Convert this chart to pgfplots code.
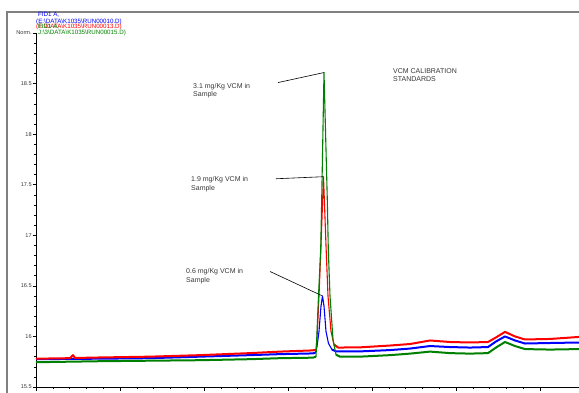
\documentclass[border=0pt]{standalone}
\usepackage{pgfplots}
\pgfplotsset{compat=1.18}
\usepackage{pgfplotstable}
\usepackage{fontspec}
\setmainfont{Liberation Sans}
\definecolor{cblue}{RGB}{0,0,255}
\definecolor{cred}{RGB}{255,0,0}
\definecolor{cgreen}{RGB}{0,128,0}
\definecolor{txt}{RGB}{55,55,55}

\pgfplotstableread{
x y
36 15.775
100 15.780
150 15.785
200 15.800
250 15.815
280 15.825
313 15.832
315.5 15.840
317 15.900
319 16.050
321 16.300
322.5 16.400
324 16.300
326 16.050
328.5 15.930
332 15.870
336 15.852
360 15.852
390 15.865
410 15.880
430 15.905
450 15.895
470 15.890
488 15.895
496 15.950
505 16.000
515 15.960
525 15.930
550 15.935
579 15.940
}\blueT

\pgfplotstableread{
x y
36 15.780
50 15.782
70 15.785
73 15.815
75 15.787
100 15.792
150 15.800
200 15.815
250 15.835
280 15.850
313 15.862
316 15.870
317 15.980
319 16.400
321 16.900
323.5 17.580
326 16.900
328 16.400
331 16.050
334 15.920
338 15.890
360 15.892
390 15.910
410 15.925
430 15.960
450 15.945
470 15.940
488 15.945
496 15.990
505 16.045
515 16.000
525 15.970
550 15.975
579 15.995
}\redT

\pgfplotstableread{
x y
36 15.745
100 15.755
150 15.760
200 15.765
250 15.775
280 15.785
313 15.790
316 15.800
316.7 15.970
318.5 16.400
320.7 16.860
321.7 17.350
324 18.610
327.3 17.350
328.3 16.860
330 16.400
333 15.970
336 15.820
340 15.800
360 15.800
390 15.815
410 15.830
430 15.850
450 15.835
470 15.830
488 15.835
496 15.890
505 15.945
515 15.905
525 15.875
550 15.870
579 15.875
}\greenT

\newcommand{\lblfont}{\fontsize{7}{8}\selectfont}
\newcommand{\legfont}{\fontsize{6.2}{6.5}\selectfont}

\begin{document}
\begin{tikzpicture}
\draw[gray, line width=1.6pt] (7pt,-10pt) -- (7pt,380pt) -- (600pt,380pt);
\begin{axis}[
  at={(36pt,5pt)}, anchor=south west,
  scale only axis, width=543pt, height=354pt,
  xmin=36, xmax=579, ymin=15.5, ymax=19,
  axis lines*=left, clip=false,
  axis line style={black, line width=0.7pt},
  xtick={36,120,204,288,372,456,540}, minor x tick num=4,
  xticklabels={},
  ytick={15.5,16,16.5,17,17.5,18,18.5,19},
  yticklabels={15.5,16,16.5,17,17.5,18,18.5,Norm.},
  minor y tick num=4,
  tick align=outside,
  major tick length=3.5pt, minor tick length=2pt,
  tick style={black, line width=0.5pt},
  yticklabel style={font=\fontsize{5.6}{6}\selectfont, text=txt, inner sep=0.6pt},
  base/.style={line width=2pt, line join=round},
  pk/.style={line width=1.1pt, line join=round},
]
\addplot[cblue, base, restrict x to domain=36:316] table {\blueT};
\addplot[cblue, pk, restrict x to domain=313:336] table {\blueT};
\addplot[cblue, base, restrict x to domain=332:579] table {\blueT};
\addplot[cred, base, restrict x to domain=36:316] table {\redT};
\addplot[cred, pk, restrict x to domain=313:338] table {\redT};
\addplot[cred, base, restrict x to domain=334:579] table {\redT};
\addplot[cgreen, base, restrict x to domain=36:316] table {\greenT};
\addplot[cgreen, pk, restrict x to domain=313:340] table {\greenT};
\addplot[cgreen, base, restrict x to domain=336:579] table {\greenT};

% annotation lines
\draw[black, line width=0.6pt] (axis cs:278,18.51) -- (axis cs:324,18.609);
\draw[black, line width=0.6pt] (axis cs:276,17.559) -- (axis cs:323,17.579);
\draw[black, line width=0.6pt] (axis cs:270,16.642) -- (axis cs:322.3,16.401);

% annotation texts
\node[anchor=base west, inner sep=0, text=txt, font=\lblfont] at (axis cs:193,18.455) {3.1 mg/Kg VCM in};
\node[anchor=base west, inner sep=0, text=txt, font=\lblfont] at (axis cs:193,18.373) {Sample};
\node[anchor=base west, inner sep=0, text=txt, font=\lblfont] at (axis cs:191,17.532) {1.9 mg/Kg VCM in};
\node[anchor=base west, inner sep=0, text=txt, font=\lblfont] at (axis cs:191,17.446) {Sample};
\node[anchor=base west, inner sep=0, text=txt, font=\lblfont] at (axis cs:186,16.624) {0.6 mg/Kg VCM in};
\node[anchor=base west, inner sep=0, text=txt, font=\lblfont] at (axis cs:186,16.537) {Sample};
\node[anchor=base west, inner sep=0, text=txt, font=\lblfont] at (axis cs:393,18.604) {VCM CALIBRATION};
\node[anchor=base west, inner sep=0, text=txt, font=\lblfont] at (axis cs:393,18.520) {STANDARDS};

% file legend
\node[anchor=base west, inner sep=0, text=cblue, font=\legfont] at (axis cs:38,19.163) {FID1 A,};
\node[anchor=base west, inner sep=0, text=cblue, font=\legfont] at (axis cs:36,19.097) {(E:\textbackslash DATA\textbackslash K1035\textbackslash RUN00010.D)};
\node[anchor=base west, inner sep=0, text=cred, font=\legfont] at (axis cs:36,19.042) {(E:\textbackslash DATA\textbackslash K1035\textbackslash RUN00013.D)};
\node[anchor=base west, inner sep=0, text=cgreen, font=\legfont] at (axis cs:38,19.042) {FID1 A,};
\node[anchor=base west, inner sep=0, text=cgreen, font=\legfont] at (axis cs:38,18.982) {J:\textbackslash 3\textbackslash DATA\textbackslash K1035\textbackslash RUN00015.D)};
\end{axis}
\pgfresetboundingbox
\useasboundingbox (0,0) rectangle (579pt,392pt);
\end{tikzpicture}
\end{document}
